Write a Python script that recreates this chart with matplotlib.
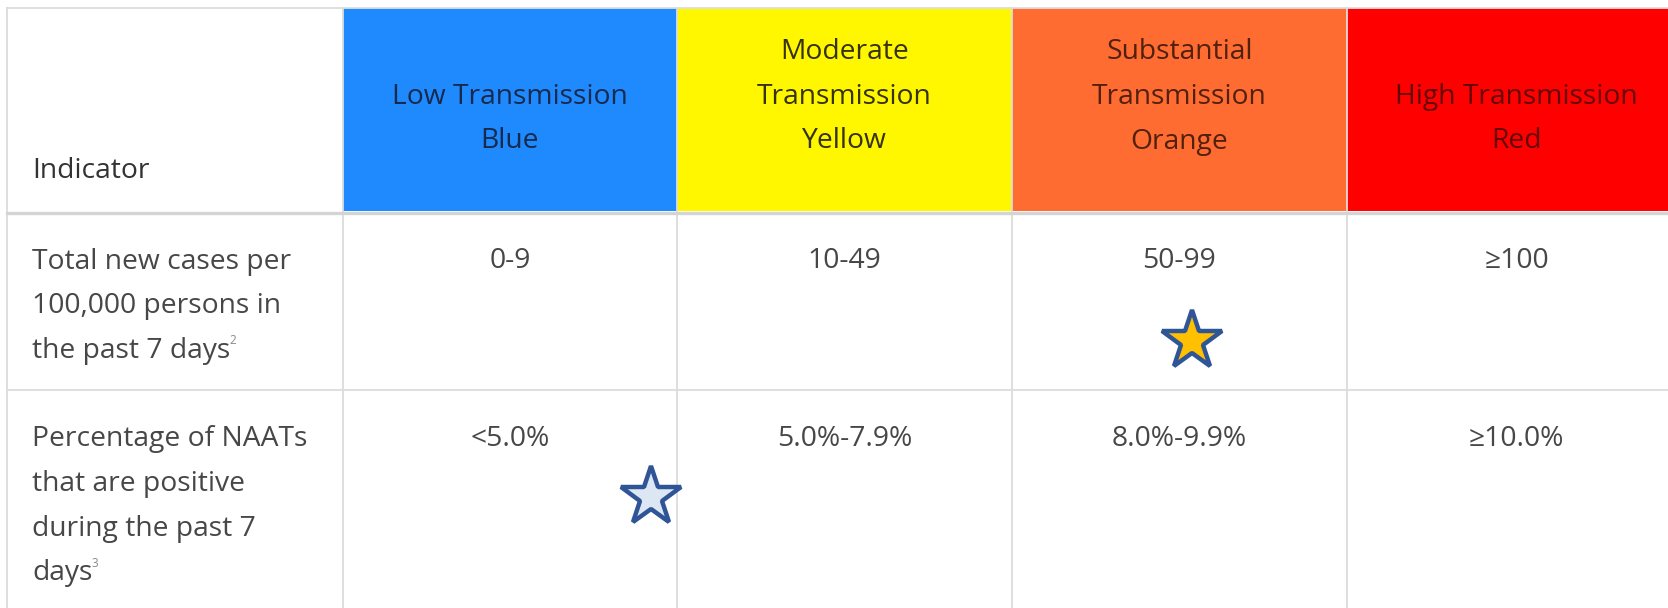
import matplotlib
matplotlib.use("Agg")
import matplotlib.pyplot as plt
from matplotlib.patches import Rectangle

plt.rcParams['font.family'] = ['Open Sans', 'DejaVu Sans']

# ---- data ----
header_first = "Indicator"
categories = ["Low Transmission\nBlue",
              "Moderate\nTransmission\nYellow",
              "Substantial\nTransmission\nOrange",
              "High Transmission\nRed"]
header_colors = ["#1e8afe", "#fff700", "#ff6c31", "#ff0000"]
header_text_colors = ["#172a4e", "#35320c", "#52200f", "#650606"]
indicators = ["Total new cases per\n100,000 persons in\nthe past 7 days",
              "Percentage of NAATs\nthat are positive\nduring the past 7\ndays"]
footnotes = ["2", "3"]
cases_ranges = ["0-9", "10-49", "50-99", "\u2265100"]
naat_ranges = ["<5.0%", "5.0%-7.9%", "8.0%-9.9%", "\u226510.0%"]
row_values = [cases_ranges, naat_ranges]
star_fills = ["#ffc000", "#dde7f4"]

# ---- layout ----
W, H = 1668, 608
fig = plt.figure(figsize=(W / 100, H / 100), dpi=100)
ax = fig.add_axes([0, 0, 1, 1])
ax.set_xlim(0, W)
ax.set_ylim(H, 0)
ax.axis('off')

col_x = [7.5, 343, 677, 1012, 1347, 1686]
row_y = [7.5, 211, 389.5, 625]
grid_c = "#dcdcdc"
body_c = "#474747"
fs = 20.3
lh = 44.7
dy = 3

# header colour fills
for i, c in enumerate(header_colors):
    ax.add_patch(Rectangle((col_x[i + 1], row_y[0]), col_x[i + 2] - col_x[i + 1],
                           row_y[1] - row_y[0], facecolor=c, edgecolor='none', zorder=1))

# grid lines
for x in col_x[:-1]:
    ax.plot([x, x], [row_y[0], H], color=grid_c, lw=1.3, zorder=2)
ax.plot([col_x[0], W], [row_y[0], row_y[0]], color=grid_c, lw=1.3, zorder=2)
ax.plot([col_x[0], W], [row_y[1] + 1.5, row_y[1] + 1.5], color="#d4d4d4", lw=2.4, zorder=3)
ax.plot([col_x[0], W], [row_y[2], row_y[2]], color=grid_c, lw=1.3, zorder=2)


def draw_lines(text, x, y_last, color, ha='center', first_y=None):
    lines = text.split("\n")
    n = len(lines)
    objs = []
    for k, ln in enumerate(lines):
        if first_y is not None:
            y = first_y + k * lh
        else:
            y = y_last - (n - 1 - k) * lh
        objs.append(ax.text(x, y + dy, ln, ha=ha, va='center', fontsize=fs,
                            color=color, zorder=5))
    return objs

# header
ax.text(32, 168 + dy, header_first, ha='left', va='center', fontsize=fs,
        color="#333333", zorder=5)
for i, cat in enumerate(categories):
    cx = (col_x[i + 1] + col_x[i + 2]) / 2
    draw_lines(cat, cx, 138.5, header_text_colors[i])

# body rows
row_first_y = [258.5, 436.2]
fig.canvas.draw()
for r, ind in enumerate(indicators):
    objs = draw_lines(ind, 32, None, body_c, ha='left', first_y=row_first_y[r])
    last = objs[-1]
    fig.canvas.draw()
    bb = last.get_window_extent()
    x1 = ax.transData.inverted().transform((bb.x1, bb.y1))[0]
    ax.text(x1 - 1, last.get_position()[1] - 10, footnotes[r], ha='left', va='center',
            fontsize=8.5, color="#8a8a8a", zorder=5)
    for i, v in enumerate(row_values[r]):
        cx = (col_x[i + 1] + col_x[i + 2]) / 2
        ax.text(cx, row_first_y[r] + dy, v, ha='center', va='center', fontsize=fs,
                color=body_c, zorder=5)

# stars (annotation marks)
star_pos = [((col_x[3] + col_x[4]) / 2 + 13, 341), (651, 497)]
for (sx, sy), fc in zip(star_pos, star_fills):
    ax.plot(sx, sy, marker='*', markersize=45, markerfacecolor=fc,
            markeredgecolor="#2f5597", markeredgewidth=3.2, zorder=6)

fig.savefig("out.png", dpi=100)
